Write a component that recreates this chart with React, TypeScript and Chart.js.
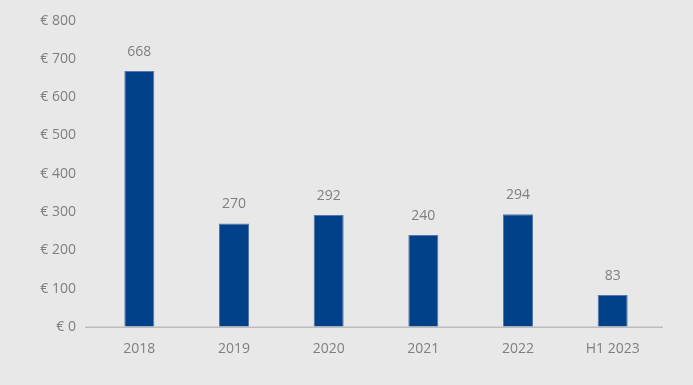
import React, { useEffect, useRef } from "react";
import { Chart, registerables } from "chart.js";

Chart.register(...registerables);

const categories = ["2018", "2019", "2020", "2021", "2022", "H1 2023"];
const values = [668, 270, 292, 240, 294, 83];
const yTicks = [0, 100, 200, 300, 400, 500, 600, 700, 800];

const FONT = "'Open Sans', 'Noto Sans', sans-serif";
const TEXT = "#7f7f7f";

const valueLabels = {
  id: "valueLabels",
  afterDatasetsDraw(chart: any) {
    const ctx = chart.ctx;
    const meta = chart.getDatasetMeta(0);
    ctx.save();
    ctx.font = `14px ${FONT}`;
    ctx.fillStyle = TEXT;
    ctx.textAlign = "center";
    ctx.textBaseline = "middle";
    meta.data.forEach((bar: any, i: number) => {
      ctx.fillText(String(values[i]), bar.x, bar.y - 19);
    });
    ctx.restore();
  },
};

const baseLine = {
  id: "baseLine",
  afterDatasetsDraw(chart: any) {
    const ctx = chart.ctx;
    const y = chart.scales.y.getPixelForValue(0);
    const { left, right } = chart.chartArea;
    ctx.save();
    ctx.strokeStyle = "#bdbdbd";
    ctx.lineWidth = 1.5;
    ctx.beginPath();
    ctx.moveTo(left - 7, y + 0.5);
    ctx.lineTo(right + 3, y + 0.5);
    ctx.stroke();
    ctx.restore();
  },
};

export default function App() {
  const ref = useRef<HTMLCanvasElement>(null);

  useEffect(() => {
    if (!ref.current) return;
    const chart = new Chart(ref.current, {
      type: "bar",
      data: {
        labels: categories,
        datasets: [
          {
            data: values,
            backgroundColor: "#00418a",
            borderColor: "#5577aa",
            borderWidth: 1,
            barPercentage: 0.317,
            categoryPercentage: 1,
          },
        ],
      },
      options: {
        responsive: false,
        animation: false,
        layout: { padding: { top: 20.6, right: 33, bottom: 0, left: 0 } },
        plugins: {
          legend: { display: false },
          tooltip: { enabled: false },
        },
        scales: {
          x: {
            grid: { display: false, drawTicks: false },
            border: { display: false },
            ticks: {
              color: TEXT,
              font: { family: FONT, size: 14 },
              padding: 14,
              maxRotation: 0,
            },
            afterFit: (scale: any) => {
              scale.height = 58.2;
            },
          },
          y: {
            min: 0,
            max: 800,
            grid: { display: false, drawTicks: false },
            border: { display: false },
            afterBuildTicks: (scale: any) => {
              scale.ticks = yTicks.map((v) => ({ value: v }));
            },
            ticks: {
              color: TEXT,
              font: { family: FONT, size: 14 },
              padding: 16,
              callback: (v: any) => `€ ${v}`,
            },
            afterFit: (scale: any) => {
              scale.width = 92;
              scale.paddingTop = 0;
              scale.paddingBottom = 0;
            },
          },
        },
      },
      plugins: [valueLabels, baseLine],
    });
    return () => chart.destroy();
  }, []);

  return (
    <div
      style={{
        position: "fixed",
        left: 0,
        top: 0,
        width: 693,
        height: 385,
        background: "#e8e8e8",
      }}
    >
      <canvas ref={ref} width={693} height={385} />
    </div>
  );
}
